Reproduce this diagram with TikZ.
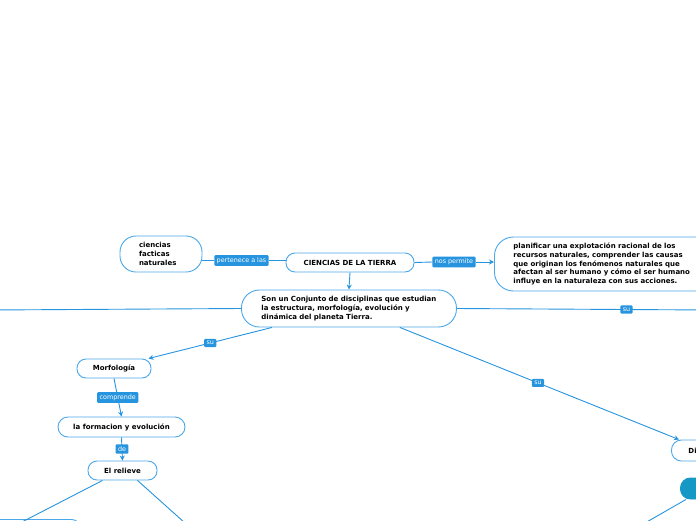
\documentclass[tikz,border=0pt]{standalone}
\usepackage{fontspec}
\setmainfont{DejaVu Sans}
\usetikzlibrary{arrows.meta}
\definecolor{mmline}{RGB}{38,148,222}
\definecolor{mmedge}{RGB}{74,168,234}
\definecolor{mmteal}{RGB}{22,152,196}
\tikzset{
  topic/.style={draw=mmedge, line width=0.9pt, fill=white, rounded corners=9pt, minimum height=19pt, inner sep=0pt, font=\fontsize{7}{8.8}\selectfont\bfseries},
  lbl/.style={fill=mmline, text=white, rounded corners=1pt, inner xsep=2.4pt, inner ysep=2.2pt, font=\fontsize{6.4}{7}\selectfont},
  link/.style={draw=mmline, line width=0.9pt}
}
\begin{document}
\begin{tikzpicture}[x=1pt, y=-1pt, >={Stealth[length=5pt,width=5pt]}]
    \useasboundingbox (0,0) rectangle (696,520);
    \clip (0,0) rectangle (696,520);
    \node[topic, rounded corners=16pt, minimum height=36pt, text width=44pt, inner xsep=19pt, align=left] (ciencias) at (161,254) {ciencias\\facticas\\naturales};
    \node[topic, minimum width=128pt] (tierra) at (350,262.5) {CIENCIAS DE LA TIERRA};
    \node[topic, rounded corners=19pt, anchor=west, minimum height=54pt, text width=192pt, inner xsep=19pt, align=left] (plan) at (494,264) {planificar una explotación racional de los\\recursos naturales, comprender las causas\\que originan los fenómenos naturales que\\afectan al ser humano y cómo el ser humano\\influye en la naturaleza con sus acciones.};
    \node[topic, rounded corners=18pt, anchor=west, minimum height=37pt, text width=175pt, inner xsep=20pt, align=left] (son) at (241,308.5) {Son un Conjunto de disciplinas que estudian\\la estructura, morfología, evolución y\\dinámica del planeta Tierra.};
    \node[topic, minimum width=74pt] (morf) at (114,368.5) {Morfología};
    \node[topic, rounded corners=10pt, minimum width=127pt, minimum height=20pt] (formacion) at (121.5,427) {la formacion y evolución};
    \node[topic, minimum width=69pt] (relieve) at (122.5,470.5) {El relieve};
    \node[topic, rounded corners=10pt, anchor=west, minimum height=21pt, text width=50pt, inner xsep=17pt, align=left] (din) at (671,450.5) {Dinámica};
    \node[topic, draw=mmteal, fill=mmteal, rounded corners=10pt, anchor=west, minimum width=44pt, minimum height=21pt] (teal) at (680,488.5) {};
    \node[topic, anchor=north west, minimum width=140pt, minimum height=21pt] (relbox) at (-60,519) {};
    \coordinate (lft) at (-10,310);
    \coordinate (rgt) at (710,310);
    \coordinate (endA) at (20,523);
    \coordinate (endB) at (185,523);
    \coordinate (endC) at (645,523);
    % upper row
    \node[lbl] (perten) at (241.5,260.5) {pertenece a las};
    \node[lbl] (permite) at (454,262) {nos permite};
    \draw[link] (perten.west) -- (perten.west -| ciencias.east);
    \draw[link] (perten.east) -- (perten.east -| tierra.west);
    \draw[link] (tierra.east) -- (permite.west);
    \draw[link, ->] (permite.east) -- (permite.east -| plan.west);
    \draw[link, ->] (tierra.south) -- (son.north);
    % branches of the definition
    \draw[link] (son.west) -- (lft);
    \draw[link] (son.east) -- (rgt) node[lbl, pos=0.67] {su};
    \draw[link, ->] ([xshift=31pt]son.south west) -- ([xshift=-3pt]morf.north east) node[lbl, midway] {su};
    \draw[link, ->] ([xshift=-57pt]son.south east) -- ([xshift=8pt]din.north west) node[lbl, pos=0.495] {su};
    \draw[link, ->] (morf.south) -- (formacion.north) node[lbl, midway] {comprende};
    \draw[link, ->] (formacion.south) -- (relieve.north) node[lbl, midway] {de};
    \draw[link] ([xshift=-20pt]relieve.south) -- (endA);
    \draw[link] ([xshift=15pt]relieve.south) -- (endB);
    \draw[link] ([xshift=6pt]teal.south west) -- (endC);
\end{tikzpicture}
\end{document}
